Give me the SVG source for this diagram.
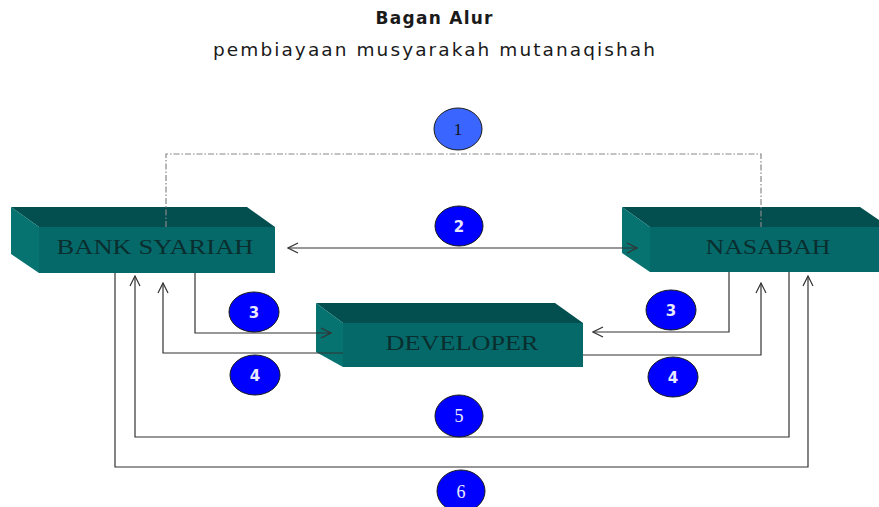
<svg xmlns="http://www.w3.org/2000/svg" width="879" height="507" viewBox="0 0 879 507">
<defs>
<style>
.front{fill:#05696a;}
.top{fill:#034f50;}
.side{fill:#067370;}
.lbl{font-family:"Liberation Serif",serif;font-size:20px;fill:#0a2e2e;}
.ttl{font-family:"DejaVu Sans",sans-serif;fill:#1a1a1a;}
.c1{fill:#3a66ff;stroke:#1a1a1a;stroke-width:1;}
.c{fill:#0000ff;stroke:#1a1a1a;stroke-width:1;}
.nsans{font-family:"DejaVu Sans",sans-serif;font-weight:bold;font-size:15px;fill:#e8e8ff;}
.nserif{font-family:"Liberation Serif",serif;font-size:18px;fill:#eeeeff;}
.line{fill:none;stroke:#333;stroke-width:1.2;}
.dd{fill:none;stroke:#888;stroke-width:1.2;stroke-dasharray:6 2 1.5 2;}
</style>
<marker id="ah" viewBox="0 0 12 12" refX="11" refY="6" markerWidth="12" markerHeight="12" markerUnits="userSpaceOnUse" orient="auto-start-reverse">
<path d="M1,1 L11,6 L1,11" fill="none" stroke="#333" stroke-width="1.2"/>
</marker>
</defs>
<rect width="879" height="507" fill="#fff"/>
<text class="ttl" x="434" y="24" text-anchor="middle" font-size="17" font-weight="bold" textLength="117" lengthAdjust="spacing">Bagan Alur</text>
<text class="ttl" x="434" y="56" text-anchor="middle" font-size="18.5" textLength="442" lengthAdjust="spacing">pembiayaan musyarakah mutanaqishah</text>

<g id="bank">
<polygon class="top" points="11,207 247,207 275,227 39,227"/>
<polygon class="side" points="11,207 39,227 39,273 11,254"/>
<rect class="front" x="39" y="227" width="236" height="46"/>
<text class="lbl" x="155" y="254" text-anchor="middle" textLength="197" lengthAdjust="spacingAndGlyphs">BANK SYARIAH</text>
</g>
<g id="nasabah">
<polygon class="top" points="622,207 860,207 879,220 879,227 650,227"/>
<polygon class="side" points="622,207 650,227 650,272 622,253"/>
<rect class="front" x="650" y="227" width="229" height="45"/>
<text class="lbl" x="768" y="254" text-anchor="middle" textLength="125" lengthAdjust="spacingAndGlyphs">NASABAH</text>
</g>
<g id="developer">
<polygon class="top" points="316,303 555,303 583,323 343,323"/>
<polygon class="side" points="316,303 343,323 343,367 316,352"/>
<rect class="front" x="343" y="323" width="240" height="44"/>
<text class="lbl" x="462" y="350" text-anchor="middle" textLength="153" lengthAdjust="spacingAndGlyphs">DEVELOPER</text>
</g>

<g id="connectors">
<polyline class="dd" points="166,227 166,154 761,154 761,227"/>
<line class="line" x1="288" y1="248" x2="637" y2="248" marker-start="url(#ah)" marker-end="url(#ah)"/>
<polyline class="line" points="195,273 195,333 331,333" marker-end="url(#ah)"/>
<polyline class="line" points="343,353 163,353 163,283" marker-end="url(#ah)"/>
<polyline class="line" points="729,272 729,332 593,332" marker-end="url(#ah)"/>
<polyline class="line" points="583,355 761,355 761,283" marker-end="url(#ah)"/>
<polyline class="line" points="789,272 789,437 135,437 135,276" marker-end="url(#ah)"/>
<polyline class="line" points="115,273 115,467 808,467 808,276" marker-end="url(#ah)"/>
</g>

<g id="n1"><ellipse class="c1" cx="458" cy="129" rx="24" ry="21"/><text class="nserif" x="458" y="135" text-anchor="middle" style="fill:#111;font-size:17px">1</text></g>
<g id="n2"><ellipse class="c" cx="459" cy="226" rx="24" ry="20"/><text class="nsans" x="459" y="232" text-anchor="middle">2</text></g>
<g id="n3a"><ellipse class="c" cx="254" cy="312" rx="25" ry="20"/><text class="nsans" x="254" y="318" text-anchor="middle">3</text></g>
<g id="n4a"><ellipse class="c" cx="255" cy="375" rx="25" ry="20"/><text class="nsans" x="255" y="381" text-anchor="middle">4</text></g>
<g id="n3b"><ellipse class="c" cx="671" cy="310" rx="25" ry="20"/><text class="nsans" x="671" y="316" text-anchor="middle">3</text></g>
<g id="n4b"><ellipse class="c" cx="673" cy="377" rx="25" ry="20"/><text class="nsans" x="673" y="383" text-anchor="middle">4</text></g>
<g id="n5"><ellipse class="c" cx="459" cy="416" rx="24" ry="21"/><text class="nserif" x="459" y="422" text-anchor="middle">5</text></g>
<g id="n6"><ellipse class="c" cx="461" cy="491" rx="24" ry="21"/><text class="nserif" x="461" y="498" text-anchor="middle">6</text></g>
</svg>
